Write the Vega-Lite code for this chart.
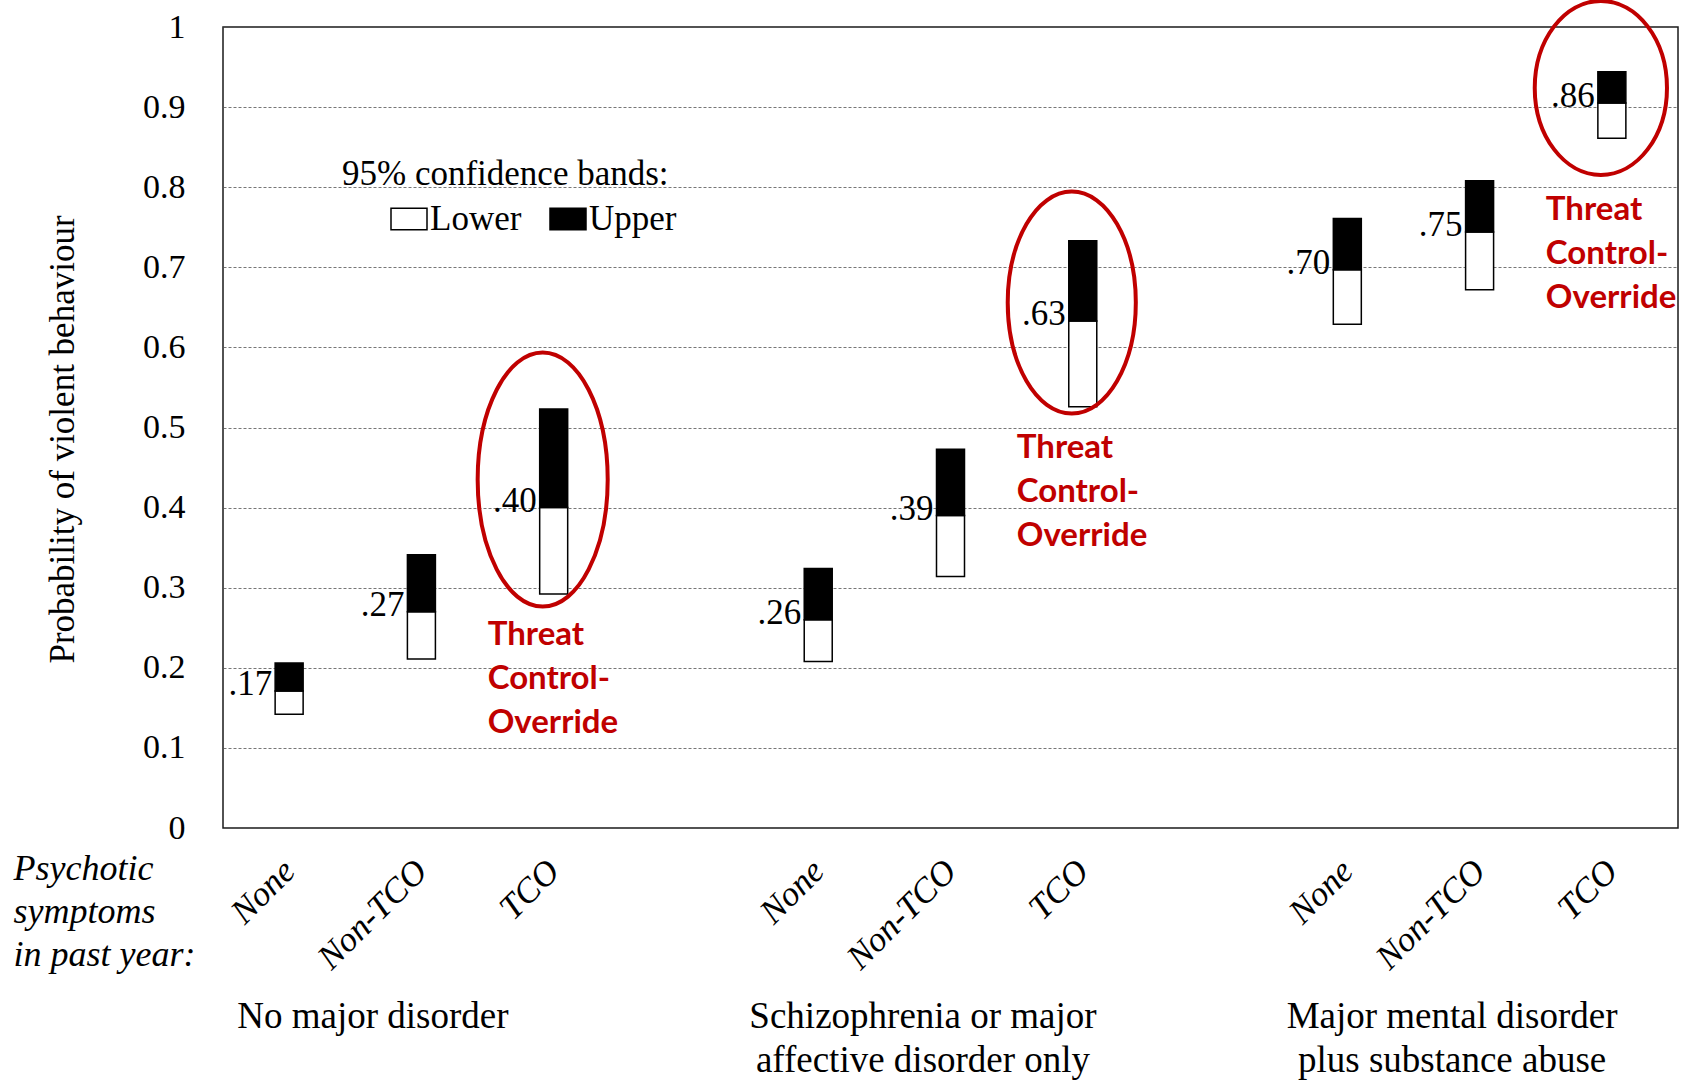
{
  "$schema": "https://vega.github.io/schema/vega-lite/v6.json",
  "width": 1455,
  "height": 801,
  "autosize": {"type": "none"},
  "padding": {"left": 223, "top": 27, "right": 12, "bottom": 253},
  "background": "white",
  "config": {
    "font": "Liberation Serif",
    "view": {"stroke": "#1a1a1a", "strokeWidth": 1.5},
    "axis": {"labelFont": "Liberation Serif", "titleFont": "Liberation Serif", "labelColor": "black", "titleColor": "black", "titleFontWeight": "normal"},
    "legend": {"labelFont": "Liberation Serif", "titleFont": "Liberation Serif"}
  },
  "datasets": {
    "bands": [
      {"group": "No major disorder", "symptoms": "None", "lower": 0.142, "split": 0.171, "upper": 0.206, "label": ".17"},
      {"group": "No major disorder", "symptoms": "Non-TCO", "lower": 0.211, "split": 0.27, "upper": 0.341, "label": ".27"},
      {"group": "No major disorder", "symptoms": "TCO", "lower": 0.292, "split": 0.40, "upper": 0.523, "label": ".40"},
      {"group": "Schizophrenia or major affective disorder only", "symptoms": "None", "lower": 0.208, "split": 0.26, "upper": 0.324, "label": ".26"},
      {"group": "Schizophrenia or major affective disorder only", "symptoms": "Non-TCO", "lower": 0.314, "split": 0.39, "upper": 0.473, "label": ".39"},
      {"group": "Schizophrenia or major affective disorder only", "symptoms": "TCO", "lower": 0.526, "split": 0.633, "upper": 0.733, "label": ".63"},
      {"group": "Major mental disorder plus substance abuse", "symptoms": "None", "lower": 0.629, "split": 0.697, "upper": 0.761, "label": ".70"},
      {"group": "Major mental disorder plus substance abuse", "symptoms": "Non-TCO", "lower": 0.672, "split": 0.744, "upper": 0.808, "label": ".75"},
      {"group": "Major mental disorder plus substance abuse", "symptoms": "TCO", "lower": 0.861, "split": 0.905, "upper": 0.944, "label": ".86"}
    ],
    "notes": [
      {"group": "No major disorder", "symptoms": "TCO", "ellipseAt": 0.435, "textAt": 0.229},
      {"group": "Schizophrenia or major affective disorder only", "symptoms": "TCO", "ellipseAt": 0.656, "textAt": 0.4625},
      {"group": "Major mental disorder plus substance abuse", "symptoms": "TCO", "ellipseAt": 0.924, "textAt": 0.759}
    ]
  },
  "layer": [
    {
      "layer": [
        {
          "data": {"name": "bands"},
          "transform": [{"calculate": "datum.group + '|' + datum.symptoms", "as": "slot"}],
          "mark": {"type": "bar", "width": 28, "stroke": "black", "strokeWidth": 1.5},
          "encoding": {
            "x": {
              "field": "slot", "type": "nominal",
              "scale": {"type": "band", "paddingInner": 0, "paddingOuter": 0, "domain": [
                "No major disorder|None", "No major disorder|Non-TCO", "No major disorder|TCO", "gap1",
                "Schizophrenia or major affective disorder only|None", "Schizophrenia or major affective disorder only|Non-TCO", "Schizophrenia or major affective disorder only|TCO", "gap2",
                "Major mental disorder plus substance abuse|None", "Major mental disorder plus substance abuse|Non-TCO", "Major mental disorder plus substance abuse|TCO"]},
              "axis": {
                "orient": "bottom",
                "labelExpr": "indexof(datum.value, '|') < 0 ? '' : split(datum.value, '|')[1]",
                "labelAngle": -45, "labelAlign": "right", "labelBaseline": "middle",
                "labelFontSize": 35, "labelFontStyle": "italic", "labelPadding": 37, "labelLimit": 400,
                "ticks": false, "domain": false, "grid": false,
                "title": ["Psychotic", "symptoms", "in past year:"],
                "titleFontStyle": "italic", "titleFontSize": 36, "titleAngle": 0,
                "titleAlign": "left", "titleBaseline": "alphabetic", "titleAnchor": "start",
                "titleX": -210, "titleY": 51, "titleLineHeight": 43
              }
            },
            "y": {
              "field": "lower", "type": "quantitative",
              "scale": {"domain": [0, 1], "nice": false},
              "axis": {
                "title": "Probability of violent behaviour", "titleFontSize": 35, "titlePadding": 62, "titleY": 412,
                "labelFontSize": 34, "labelPadding": 38, "format": "~g", "tickCount": 10,
                "ticks": false, "domain": false,
                "grid": true, "gridDash": [3, 2], "gridColor": "#555", "gridWidth": 1, "gridOpacity": 0.8
              }
            },
            "y2": {"field": "split"},
            "color": {
              "datum": "Lower",
              "scale": {"domain": ["Lower", "Upper"], "range": ["white", "black"]},
              "legend": {
                "title": "95% confidence bands:", "orient": "none", "direction": "horizontal",
                "legendX": 119, "legendY": 130, "titleFontSize": 35, "titleFontWeight": "normal", "titleLimit": 800,
                "titleColor": "black", "labelColor": "black", "labelFontSize": 35, "titlePadding": 8, "labelLimit": 400,
                "symbolType": "M-1,-0.6H1V0.6H-1Z", "symbolSize": 1296, "symbolStrokeColor": "black",
                "symbolStrokeWidth": 1.5, "symbolOffset": 48, "labelOffset": 2, "columnPadding": -21, "gridAlign": "none"
              }
            }
          }
        },
        {
          "data": {"name": "bands"},
          "transform": [{"calculate": "datum.group + '|' + datum.symptoms", "as": "slot"}],
          "mark": {"type": "bar", "width": 28, "stroke": "black", "strokeWidth": 1.5},
          "encoding": {
            "x": {"field": "slot", "type": "nominal"},
            "y": {"field": "split", "type": "quantitative"},
            "y2": {"field": "upper"},
            "color": {"datum": "Upper"}
          }
        },
        {
          "data": {"name": "bands"},
          "transform": [{"calculate": "datum.group + '|' + datum.symptoms", "as": "slot"}],
          "mark": {"type": "text", "align": "right", "baseline": "middle", "dx": -17, "dy": -7, "fontSize": 35, "color": "black", "font": "Liberation Serif"},
          "encoding": {
            "x": {"field": "slot", "type": "nominal"},
            "y": {"field": "split", "type": "quantitative"},
            "text": {"field": "label"}
          }
        },
        {
          "data": {"name": "notes"},
          "transform": [{"calculate": "datum.group + '|' + datum.symptoms", "as": "slot"}, {"filter": "datum.group == 'No major disorder'"}],
          "mark": {"type": "point", "filled": false, "stroke": "#C00000", "strokeWidth": 4, "opacity": 1, "xOffset": -11,
                   "shape": "M0,-1A0.512,1 0 1,1 0,1A0.512,1 0 1,1 0,-1Z", "size": 64516},
          "encoding": {
            "x": {"field": "slot", "type": "nominal"},
            "y": {"field": "ellipseAt", "type": "quantitative"}
          }
        },
        {
          "data": {"name": "notes"},
          "transform": [{"calculate": "datum.group + '|' + datum.symptoms", "as": "slot"}, {"filter": "datum.group == 'Schizophrenia or major affective disorder only'"}],
          "mark": {"type": "point", "filled": false, "stroke": "#C00000", "strokeWidth": 4, "opacity": 1, "xOffset": -11,
                   "shape": "M0,-1A0.577,1 0 1,1 0,1A0.577,1 0 1,1 0,-1Z", "size": 49284},
          "encoding": {
            "x": {"field": "slot", "type": "nominal"},
            "y": {"field": "ellipseAt", "type": "quantitative"}
          }
        },
        {
          "data": {"name": "notes"},
          "transform": [{"calculate": "datum.group + '|' + datum.symptoms", "as": "slot"}, {"filter": "datum.group == 'Major mental disorder plus substance abuse'"}],
          "mark": {"type": "point", "filled": false, "stroke": "#C00000", "strokeWidth": 4, "opacity": 1, "xOffset": -11,
                   "shape": "M0,-1A0.76,1 0 1,1 0,1A0.76,1 0 1,1 0,-1Z", "size": 30276},
          "encoding": {
            "x": {"field": "slot", "type": "nominal"},
            "y": {"field": "ellipseAt", "type": "quantitative"}
          }
        },
        {
          "data": {"name": "notes"},
          "transform": [{"calculate": "datum.group + '|' + datum.symptoms", "as": "slot"}],
          "mark": {"type": "text", "text": ["Threat", "Control-", "Override"], "align": "left", "baseline": "alphabetic",
                   "dx": -66, "lineHeight": 44, "font": "Lato", "fontWeight": "bold", "fontSize": 33, "color": "#C00000"},
          "encoding": {
            "x": {"field": "slot", "type": "nominal"},
            "y": {"field": "textAt", "type": "quantitative"}
          }
        }
      ]
    },
    {
      "data": {"name": "bands"},
      "mark": {"type": "text", "text": ""},
      "encoding": {
        "x": {
          "field": "group", "type": "nominal",
          "scale": {"type": "point", "padding": 0.375, "domain": ["No major disorder", "Schizophrenia or major affective disorder only", "Major mental disorder plus substance abuse"]},
          "axis": {
            "orient": "bottom", "title": null, "ticks": false, "domain": false, "grid": false,
            "labelAngle": 0, "labelAlign": "center", "labelBaseline": "top",
            "labelFontSize": 37, "labelPadding": 170, "labelLineHeight": 44, "labelLimit": 600,
            "labelOffset": {"condition": {"test": "datum.value == 'No major disorder'", "value": -49}, "value": -28},
            "labelExpr": "datum.value == 'Schizophrenia or major affective disorder only' ? ['Schizophrenia or major', 'affective disorder only'] : datum.value == 'Major mental disorder plus substance abuse' ? ['Major mental disorder', 'plus substance abuse'] : datum.value"
          }
        }
      }
    }
  ],
  "resolve": {"scale": {"x": "independent"}, "axis": {"x": "independent"}}
}
